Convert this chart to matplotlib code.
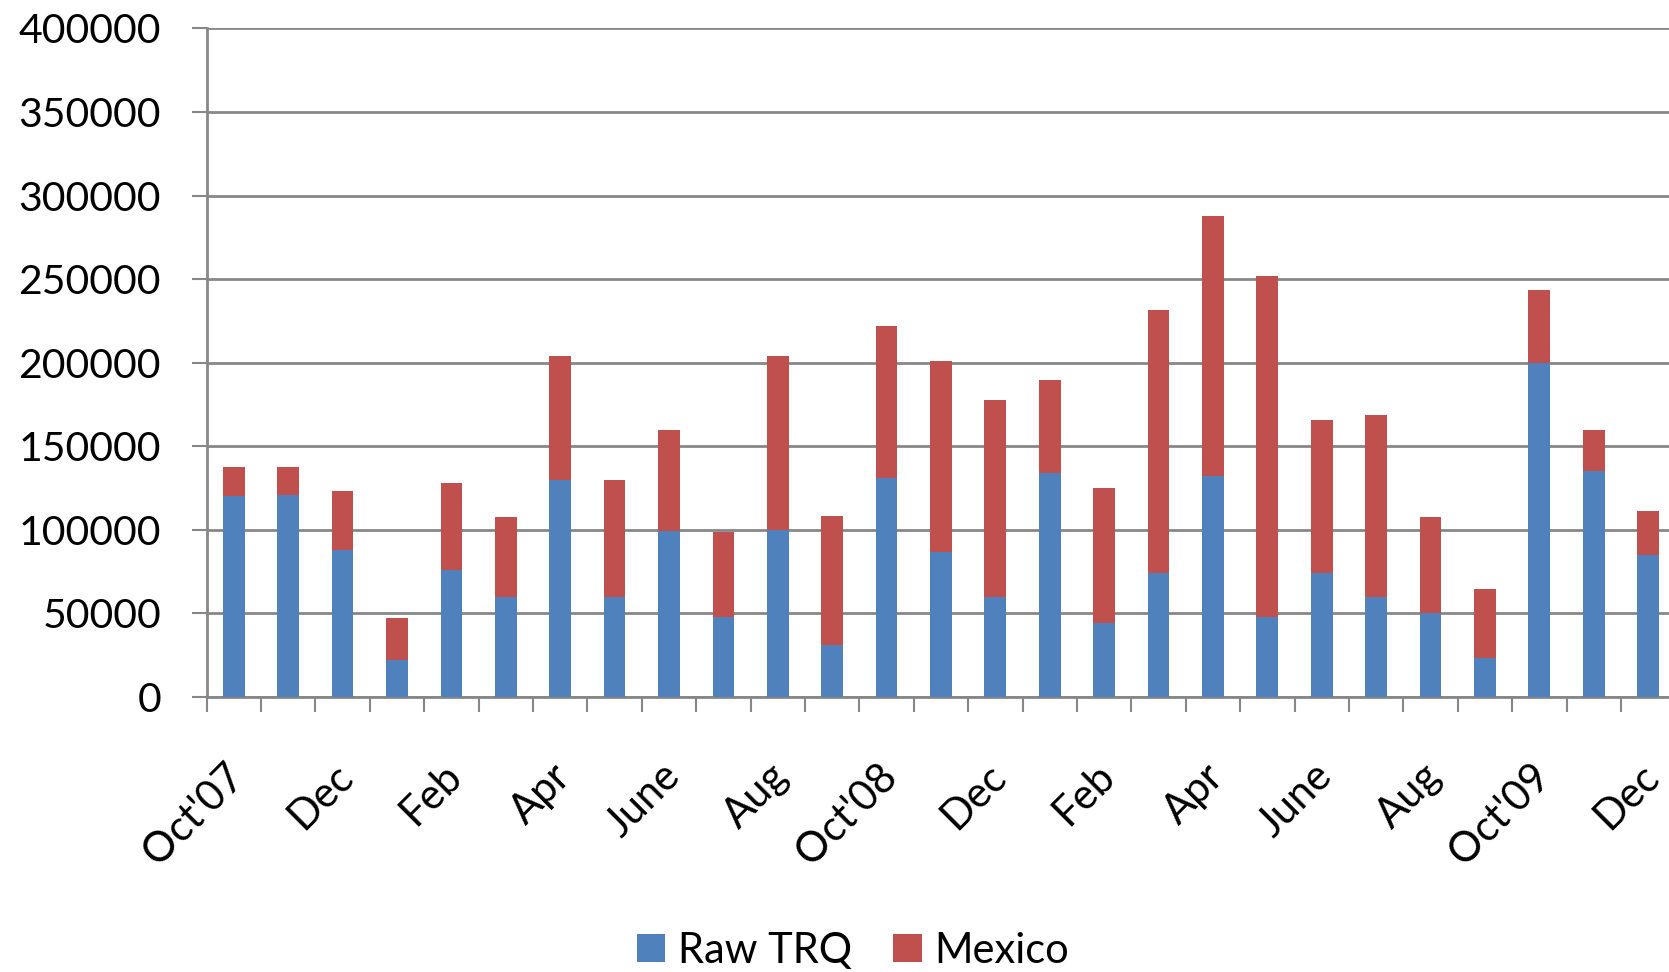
import numpy as np
import matplotlib
matplotlib.use("Agg")
import matplotlib.pyplot as plt
import matplotlib.transforms as mtransforms
from matplotlib.ticker import FixedLocator, NullFormatter

months = ["Oct'07", "Nov", "Dec", "Jan", "Feb", "Mar", "Apr", "May", "June", "July",
          "Aug", "Sep", "Oct'08", "Nov", "Dec", "Jan", "Feb", "Mar", "Apr", "May",
          "June", "July", "Aug", "Sep", "Oct'09", "Nov", "Dec"]
raw_trq = [120000, 121000, 88000, 22000, 76000, 60000, 130000, 60000, 99000, 48000,
           100000, 31000, 131000, 87000, 60000, 134000, 44000, 74000, 132000, 48000,
           74000, 60000, 50000, 23000, 200000, 135000, 85000]
totals = [137500, 137500, 123000, 47500, 128000, 107500, 204000, 130000, 159500, 98500,
          204000, 108000, 222000, 201000, 177500, 189500, 125000, 231500, 288000, 252000,
          165500, 168500, 107500, 64500, 243500, 160000, 111000]
mexico = [t - r for t, r in zip(totals, raw_trq)]

BLUE, RED, GREY = "#4F81BD", "#C0504D", "#878787"
plt.rcParams["font.family"] = ["Lato", "DejaVu Sans"]

fig = plt.figure(figsize=(16.69, 9.72), dpi=100)
ax = fig.add_axes([0.1238, 0.283, 0.880, 0.6877])
x = np.arange(len(months))
ax.bar(x, raw_trq, width=0.4, color=BLUE, label="Raw TRQ", zorder=3)
ax.bar(x, mexico, width=0.4, bottom=raw_trq, color=RED, label="Mexico", zorder=3)

ax.set_xlim(-0.5, len(months) - 0.5)
ax.set_ylim(0, 400000)
ax.set_yticks(np.arange(0, 400001, 50000))
ax.grid(axis="y", color=GREY, lw=2, zorder=1)
ax.set_axisbelow(True)
for s in ("top", "right"):
    ax.spines[s].set_visible(False)
for s in ("left", "bottom"):
    ax.spines[s].set_color(GREY)
    ax.spines[s].set_linewidth(2)

# ticks at category boundaries, labels every second month
ax.xaxis.set_major_locator(FixedLocator(np.arange(-0.5, len(months), 1.0)))
ax.xaxis.set_major_formatter(NullFormatter())
ax.set_xticks(x[::2], [months[i] for i in x[::2]], minor=True)
ax.tick_params(axis="x", which="major", length=10.8, width=1.5, color=GREY, direction="out")
ax.tick_params(axis="x", which="minor", length=0, pad=43, labelsize=30)
ax.tick_params(axis="y", length=10.8, width=1.5, color=GREY, direction="out", pad=22,
               labelsize=29.5)
off = mtransforms.ScaledTranslation(-0.09, 0, fig.dpi_scale_trans)
for lab in ax.get_xticklabels(minor=True):
    lab.set_rotation(45)
    lab.set_ha("right")
    lab.set_va("top")
    lab.set_rotation_mode("anchor")
    lab.set_transform(lab.get_transform() + off)

fig.legend(loc="center", bbox_to_anchor=(0.511, 0.022), ncol=2, frameon=False,
           fontsize=30, handlelength=0.68, handleheight=0.68, handletextpad=0.3,
           columnspacing=1.0, borderaxespad=0)

fig.savefig("out.png", dpi=100)
